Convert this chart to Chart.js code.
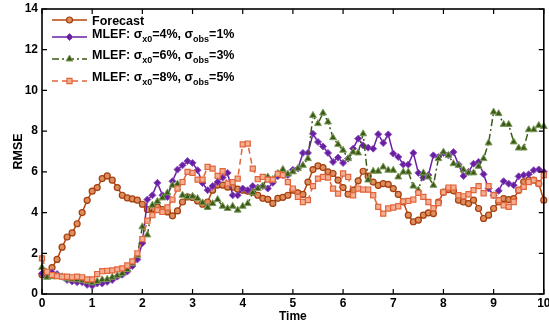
<!DOCTYPE html>
<html><head><meta charset="utf-8">
<script src="https://cdn.jsdelivr.net/npm/chart.js@4.4.0/dist/chart.umd.min.js"></script>
<style>html,body{margin:0;padding:0;background:#fff;}canvas{display:block;}</style>
</head><body>
<canvas id="c" width="549" height="325"></canvas>
<script>
const time = [0,0.1,0.2,0.3,0.4,0.5,0.6,0.7,0.8,0.9,1,1.1,1.2,1.3,1.4,1.5,1.6,1.7,1.8,1.9,2,2.1,2.2,2.3,2.4,2.5,2.6,2.7,2.8,2.9,3,3.1,3.2,3.3,3.4,3.5,3.6,3.7,3.8,3.9,4,4.1,4.2,4.3,4.4,4.5,4.6,4.7,4.8,4.9,5,5.1,5.2,5.3,5.4,5.5,5.6,5.7,5.8,5.9,6,6.1,6.2,6.3,6.4,6.5,6.6,6.7,6.8,6.9,7,7.1,7.2,7.3,7.4,7.5,7.6,7.7,7.8,7.9,8,8.1,8.2,8.3,8.4,8.5,8.6,8.7,8.8,8.9,9,9.1,9.2,9.3,9.4,9.5,9.6,9.7,9.8,9.9,10];
const forecast = [0.95,1.0,1.3,1.7,2.3,2.8,3.0,3.45,4.0,4.6,5.05,5.23,5.67,5.8,5.59,5.23,4.85,4.72,4.67,4.61,4.41,4.15,4.18,4.28,4.15,4.03,3.84,4.08,4.52,4.77,4.74,4.57,4.41,4.52,5.1,5.35,5.35,5.25,5.25,5.15,5.1,5.05,5.0,4.85,4.7,4.65,4.45,4.7,4.75,4.85,5.1,4.97,4.89,5.5,6.11,6.29,6.21,6.0,5.92,5.59,5.23,4.9,5.1,5.56,6.03,5.79,5.5,5.34,5.42,5.39,5.18,4.89,4.52,3.87,3.55,3.63,3.87,3.99,3.95,4.52,5.0,5.13,5.07,4.61,4.52,4.44,4.61,4.2,3.71,3.87,4.2,4.52,4.69,4.64,4.69,5.1,5.51,5.59,5.59,5.42,4.61];
const mlef4 = [1.0,0.98,1.05,0.98,0.85,0.69,0.62,0.58,0.58,0.45,0.4,0.52,0.52,0.6,0.69,0.85,0.95,1.1,1.37,1.7,2.5,4.64,4.85,5.46,4.85,4.77,5.54,6.11,6.32,6.53,6.44,6.08,5.45,5.1,5.3,5.5,5.72,5.95,4.85,4.85,5.18,5.1,5.3,5.23,5.3,5.18,5.46,5.79,5.84,5.84,6.1,6.16,6.93,6.93,7.87,7.47,7.25,6.93,6.49,6.7,6.44,6.65,7.14,7.63,7.3,7.19,7.14,7.85,7.42,7.84,6.9,6.73,6.36,6.36,6.93,5.95,5.72,5.84,6.81,6.73,6.93,6.81,6.97,6.36,5.8,6.0,6.4,6.49,5.88,5.18,4.85,5.07,5.54,5.42,5.34,5.78,5.84,5.88,6.08,6.12,6.0];
const mlef6 = [1.3,0.82,0.85,0.88,0.85,0.75,0.72,0.7,0.68,0.62,0.55,0.62,0.7,0.72,0.82,0.9,1.0,1.2,1.5,1.9,3.3,2.9,4.36,4.55,4.72,4.97,5.34,5.4,4.85,4.77,4.8,4.69,4.48,4.25,4.44,4.64,4.31,4.2,4.31,4.12,4.31,4.44,4.97,5.18,5.3,5.75,5.62,5.92,6.12,5.89,6.0,6.16,6.32,6.65,8.77,8.37,8.89,8.45,7.68,7.35,7.06,6.65,6.97,6.93,7.87,5.6,6.03,6.03,6.24,6.08,6.08,5.75,5.99,5.99,5.3,5.1,5.95,5.75,5.34,6.65,6.97,6.81,6.4,6.32,6.1,5.95,5.95,6.27,6.65,7.42,8.94,8.86,8.33,8.33,7.47,7.17,7.17,8.07,8.07,8.28,8.23];
const mlef8 = [1.75,1.09,0.93,0.88,0.85,0.85,0.82,0.85,0.82,0.72,0.72,0.98,1.12,1.14,1.16,1.21,1.26,1.4,1.6,2.0,2.7,3.6,3.87,4.12,4.03,4.25,4.64,5.18,5.5,6.0,5.95,5.62,5.62,6.24,6.16,5.8,6.03,5.42,5.5,5.67,7.35,7.39,6.16,5.64,5.75,5.62,5.62,5.9,5.84,5.5,5.18,4.77,4.52,4.61,5.3,5.67,5.75,5.72,5.18,4.93,5.92,5.75,4.85,5.18,5.13,5.13,4.85,4.28,3.95,4.2,4.25,4.31,4.55,4.57,4.64,4.97,4.77,4.52,4.22,4.47,5.0,5.23,5.23,4.85,4.8,4.9,5.1,5.3,4.95,5.3,4.85,4.61,4.36,4.28,4.52,5.1,5.26,5.5,5.59,5.42,5.84];
const xTicks = [0,1,2,3,4,5,6,7,8,9,10];
const yTicks = [0,2,4,6,8,10,12,14];
const legendLabels = [
  [{t:'Forecast'}],
  [{t:'MLEF: σ'},{t:'x0',sub:true},{t:'=4%, σ'},{t:'obs',sub:true},{t:'=1%'}],
  [{t:'MLEF: σ'},{t:'x0',sub:true},{t:'=6%, σ'},{t:'obs',sub:true},{t:'=3%'}],
  [{t:'MLEF: σ'},{t:'x0',sub:true},{t:'=8%, σ'},{t:'obs',sub:true},{t:'=5%'}]
];

const FONT = "'Liberation Sans', Arial, Helvetica, sans-serif";
Chart.defaults.font.family = FONT;
Chart.defaults.color = '#000';

const pts = ys => time.map((t, i) => ({x: t, y: ys[i]}));

const legendLineY = [20, 37, 59, 81];
const legendBase = [25, 37.5, 58.5, 80.5];

function drawMarker(ctx, ds, x, y) {
  ctx.save();
  ctx.fillStyle = ds.pointBackgroundColor;
  ctx.strokeStyle = ds.pointBorderColor;
  ctx.lineWidth = ds.pointBorderWidth;
  ctx.setLineDash([]);
  const r = ds.pointRadius;
  ctx.beginPath();
  if (ds.pointStyle === 'circle') {
    ctx.arc(x, y, r, 0, Math.PI * 2);
  } else if (ds.pointStyle === 'rectRot') {
    ctx.moveTo(x, y - r); ctx.lineTo(x + r, y); ctx.lineTo(x, y + r); ctx.lineTo(x - r, y); ctx.closePath();
  } else if (ds.pointStyle === 'triangle') {
    const h = r * 1.5;
    ctx.moveTo(x, y - r); ctx.lineTo(x + r * 0.866, y + r * 0.5); ctx.lineTo(x - r * 0.866, y + r * 0.5); ctx.closePath();
  } else {
    const s = r * Math.SQRT1_2;
    ctx.rect(x - s, y - s, 2 * s, 2 * s);
  }
  ctx.fill(); ctx.stroke();
  ctx.restore();
}

const richLegend = {
  id: 'richLegend',
  afterDraw(chart) {
    const ctx = chart.ctx;
    ctx.save();
    chart.data.datasets.forEach((ds, i) => {
      const ly = legendLineY[i];
      ctx.strokeStyle = ds.borderColor;
      ctx.lineWidth = ds.borderWidth;
      ctx.setLineDash(ds.borderDash || []);
      ctx.beginPath(); ctx.moveTo(52, ly); ctx.lineTo(87, ly); ctx.stroke();
      ctx.setLineDash([]);
      drawMarker(ctx, ds, 69.5, ly);
      let x = 92;
      ctx.fillStyle = '#000';
      ctx.textAlign = 'left';
      ctx.textBaseline = 'alphabetic';
      for (const seg of legendLabels[i]) {
        ctx.font = (seg.sub ? 'bold 9px ' : 'bold 12.5px ') + FONT;
        ctx.fillText(seg.t, x, legendBase[i] + (seg.sub ? 4.5 : 0));
        x += ctx.measureText(seg.t).width;
      }
    });
    ctx.restore();
  }
};

const frame = {
  id: 'frame',
  afterDatasetsDraw(chart) {
    const {ctx, chartArea: a, scales: {x, y}} = chart;
    ctx.save();
    ctx.strokeStyle = '#000';
    ctx.lineWidth = 1.6;
    ctx.setLineDash([]);
    ctx.strokeRect(a.left, a.top, a.right - a.left, a.bottom - a.top);
    ctx.lineWidth = 1.2;
    ctx.beginPath();
    xTicks.forEach(v => {
      const px = x.getPixelForValue(v);
      ctx.moveTo(px, a.bottom); ctx.lineTo(px, a.bottom - 5);
      ctx.moveTo(px, a.top); ctx.lineTo(px, a.top + 5);
    });
    yTicks.forEach(v => {
      const py = y.getPixelForValue(v);
      ctx.moveTo(a.left, py); ctx.lineTo(a.left + 5, py);
      ctx.moveTo(a.right, py); ctx.lineTo(a.right - 5, py);
    });
    ctx.stroke();
    ctx.restore();
  }
};

new Chart(document.getElementById('c'), {
  type: 'line',
  data: {
    datasets: [
      {label: 'Forecast', data: pts(forecast), borderColor: '#B4460F', borderWidth: 1.5,
       pointStyle: 'circle', pointRadius: 3, pointBorderWidth: 1.2, pointBorderColor: '#A53D0C', pointBackgroundColor: '#DC8E5E', order: 3, clip: false},
      {label: 'MLEF 4%', data: pts(mlef4), borderColor: '#6A1FA0', borderWidth: 1.5,
       pointStyle: 'rectRot', pointRadius: 3.5, pointBorderWidth: 1, pointBorderColor: '#8A4EC0', pointBackgroundColor: '#6A1FA0', order: 2, clip: false},
      {label: 'MLEF 6%', data: pts(mlef6), borderColor: '#3B5A17', borderWidth: 1.5, borderDash: [7, 3, 2, 3],
       pointStyle: 'triangle', pointRadius: 4, pointBorderWidth: 1, pointBorderColor: '#7E9C5C', pointBackgroundColor: '#3B5A17', order: 1, clip: false},
      {label: 'MLEF 8%', data: pts(mlef8), borderColor: '#E2643A', borderWidth: 1.5, borderDash: [6, 4],
       pointStyle: 'rect', pointRadius: 3.6, pointBorderWidth: 1.2, pointBorderColor: '#E2643A', pointBackgroundColor: '#F4AE92', order: 0, clip: false}
    ]
  },
  options: {
    responsive: false, animation: false, devicePixelRatio: 1,
    layout: {padding: {top: 9, right: 3, left: 0, bottom: 0}},
    elements: {line: {tension: 0}},
    plugins: {legend: {display: false}, tooltip: {enabled: false}},
    scales: {
      x: {type: 'linear', min: 0, max: 10,
        afterBuildTicks: s => { s.ticks = xTicks.map(v => ({value: v})); },
        grid: {display: false, drawTicks: false}, border: {display: false},
        ticks: {padding: 2, color: '#000', font: {weight: 'bold', size: 12}, maxRotation: 0, autoSkip: false},
        title: {display: true, text: 'Time', color: '#000', font: {weight: 'bold', size: 12}, padding: {top: 0, bottom: 1}},
        afterFit: s => { s.height = 31; s.paddingLeft = 0; s.paddingRight = 0; }
      },
      y: {type: 'linear', min: 0, max: 14,
        afterBuildTicks: s => { s.ticks = yTicks.map(v => ({value: v})); },
        grid: {display: false, drawTicks: false}, border: {display: false},
        ticks: {padding: 4, color: '#000', font: {weight: 'bold', size: 12}, autoSkip: false},
        title: {display: true, text: 'RMSE', color: '#000', font: {weight: 'bold', size: 12.5}, padding: {top: 11, bottom: 0}},
        afterFit: s => { s.width = 42; s.paddingTop = 0; s.paddingBottom = 0; }
      }
    }
  },
  plugins: [frame, richLegend]
});
</script>
</body></html>
